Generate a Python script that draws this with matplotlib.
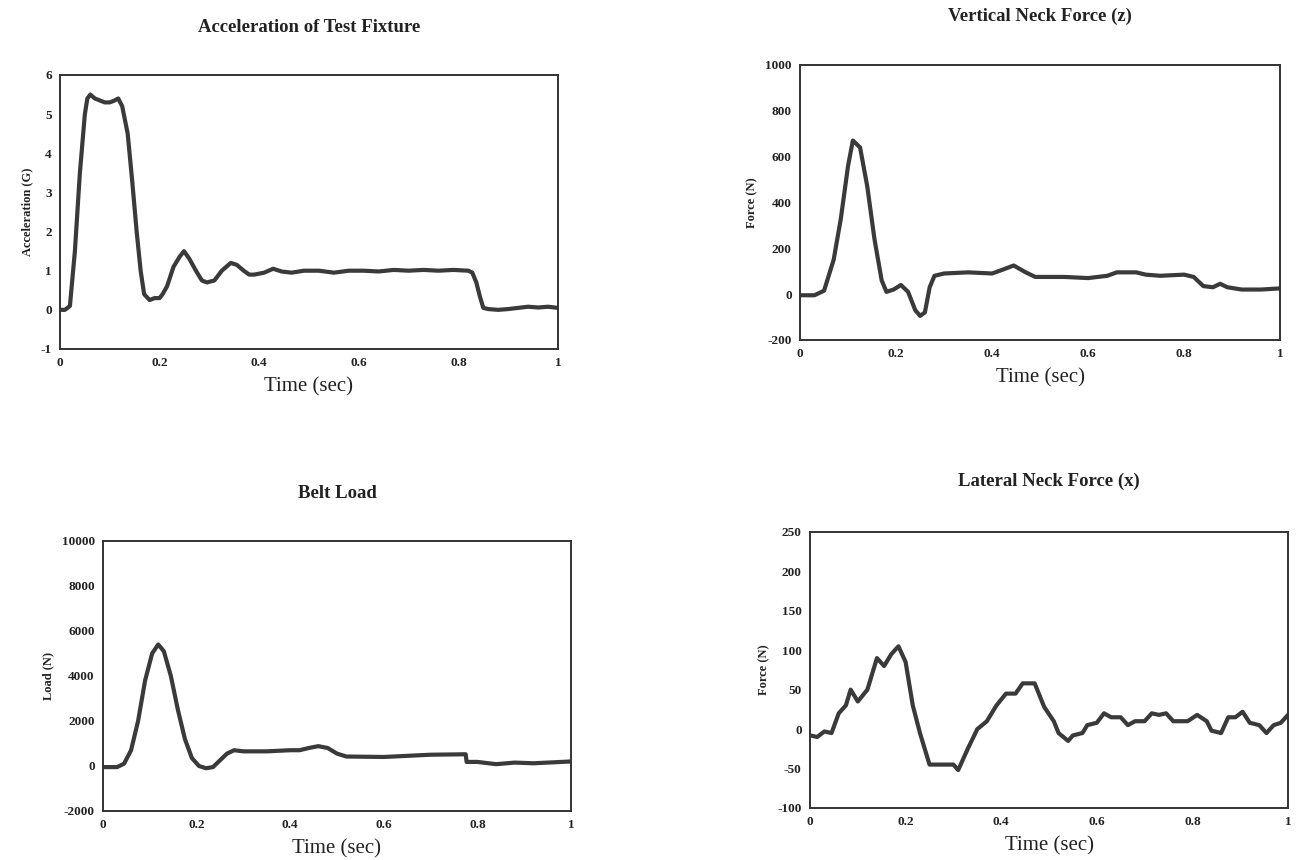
import matplotlib
matplotlib.use('Agg')
import matplotlib.pyplot as plt

plt.rcParams['font.family'] = 'Liberation Serif'
plt.rcParams['axes.unicode_minus'] = False

# Acceleration of test fixture (G)
acc_t = [0.0, 0.01, 0.02, 0.03, 0.04, 0.05, 0.055, 0.061, 0.07, 0.08, 0.09, 0.1, 0.11, 0.117,
         0.125, 0.136, 0.145, 0.154, 0.162, 0.169, 0.18, 0.19, 0.2, 0.206, 0.215, 0.228, 0.24,
         0.249, 0.26, 0.273, 0.285, 0.295, 0.31, 0.325, 0.343, 0.355, 0.369, 0.38, 0.39, 0.41,
         0.428, 0.445, 0.465, 0.49, 0.52, 0.55, 0.58, 0.61, 0.64, 0.67, 0.7, 0.73, 0.76, 0.79,
         0.82, 0.828, 0.836, 0.843, 0.85, 0.86, 0.88, 0.9, 0.92, 0.94, 0.96, 0.98, 1.0]
acc_v = [0.0, 0.0, 0.1, 1.5, 3.5, 5.0, 5.4, 5.5, 5.4, 5.35, 5.3, 5.3, 5.35, 5.4,
         5.2, 4.5, 3.3, 2.0, 1.0, 0.4, 0.25, 0.3, 0.3, 0.4, 0.6, 1.1, 1.35,
         1.5, 1.3, 1.0, 0.75, 0.7, 0.75, 1.0, 1.2, 1.15, 1.0, 0.9, 0.9, 0.95,
         1.05, 0.98, 0.95, 1.0, 1.0, 0.95, 1.0, 1.0, 0.98, 1.02, 1.0, 1.02, 1.0, 1.02,
         1.0, 0.95, 0.7, 0.35, 0.05, 0.02, 0.0, 0.02, 0.05, 0.08, 0.06, 0.08, 0.05]

# Vertical neck force (N)
vnf_t = [0.0, 0.03, 0.05, 0.07, 0.085, 0.1, 0.11, 0.125, 0.14, 0.155, 0.17, 0.18, 0.195,
         0.21, 0.225, 0.24, 0.25, 0.26, 0.27, 0.28, 0.3, 0.35, 0.4, 0.42, 0.445, 0.47, 0.49,
         0.55, 0.6, 0.64, 0.66, 0.7, 0.72, 0.75, 0.8, 0.82, 0.84, 0.86, 0.875, 0.89, 0.92,
         0.96, 1.0]
vnf_v = [-5, -5, 15, 150, 330, 560, 670, 640, 470, 240, 60, 10, 20,
         40, 10, -70, -95, -80, 30, 80, 90, 95, 90, 105, 125, 95, 75,
         75, 70, 80, 95, 95, 85, 80, 85, 75, 35, 30, 45, 30, 20,
         20, 25]

# Belt load (N)
belt_t = [0.0, 0.03, 0.045, 0.06, 0.075, 0.09, 0.105, 0.118, 0.13, 0.145, 0.16, 0.175, 0.19,
          0.205, 0.22, 0.235, 0.25, 0.265, 0.28, 0.3, 0.35, 0.4, 0.42, 0.44, 0.46, 0.48, 0.5,
          0.52, 0.6, 0.65, 0.7, 0.775, 0.777, 0.8, 0.84, 0.88, 0.92, 1.0]
belt_v = [-50, -50, 100, 700, 2000, 3800, 5000, 5400, 5100, 4000, 2500, 1200, 350,
          0, -100, -50, 250, 550, 700, 650, 650, 700, 700, 800, 880, 800, 550,
          420, 400, 450, 500, 520, 180, 180, 80, 150, 120, 200]

# Lateral neck force (N)
lnf_t = [0.0, 0.015, 0.03, 0.045, 0.06, 0.075, 0.085, 0.1, 0.12, 0.14, 0.155, 0.17, 0.185,
         0.2, 0.215, 0.23, 0.25, 0.28, 0.3, 0.31, 0.33, 0.35, 0.37, 0.39, 0.41, 0.43, 0.445,
         0.47, 0.49, 0.51, 0.52, 0.54, 0.55, 0.57, 0.58, 0.6, 0.615, 0.63, 0.65, 0.665, 0.68,
         0.7, 0.715, 0.73, 0.745, 0.76, 0.79, 0.81, 0.83, 0.84, 0.86, 0.875, 0.89, 0.905,
         0.92, 0.94, 0.955, 0.97, 0.985, 1.0]
lnf_v = [-8, -10, -3, -5, 20, 30, 50, 35, 50, 90, 80, 95, 105,
         85, 30, -5, -45, -45, -45, -52, -25, 0, 10, 30, 45, 45, 58,
         58, 28, 10, -5, -15, -8, -5, 5, 8, 20, 15, 15, 5, 10,
         10, 20, 18, 20, 10, 10, 18, 10, -2, -5, 15, 15, 22,
         8, 5, -5, 5, 8, 18]

xticks = [0, 0.2, 0.4, 0.6, 0.8, 1]
xticklabels = ['0', '0.2', '0.4', '0.6', '0.8', '1']

panels = [
    # title, ylabel, t, v, yticks, axes rect, title pad
    ('Acceleration of Test Fixture', 'Acceleration (G)', acc_t, acc_v,
     [-1, 0, 1, 2, 3, 4, 5, 6], [0.0457, 0.5942, 0.3796, 0.3186], 31),
    ('Vertical Neck Force (z)', 'Force (N)', vnf_t, vnf_v,
     [-200, 0, 200, 400, 600, 800, 1000], [0.6098, 0.6047, 0.3659, 0.3198], 32),
    ('Belt Load', 'Load (N)', belt_t, belt_v,
     [-2000, 0, 2000, 4000, 6000, 8000, 10000], [0.0785, 0.0570, 0.3567, 0.3140], 31),
    ('Lateral Neck Force (x)', 'Force (N)', lnf_t, lnf_v,
     [-100, -50, 0, 50, 100, 150, 200, 250], [0.6174, 0.0605, 0.3643, 0.3210], 33),
]

fig = plt.figure(figsize=(13.12, 8.6), dpi=100)
line_color = '#3a3a3a'

for title, ylab, t, v, yt, rect, tpad in panels:
    ax = fig.add_axes(rect)
    ax.plot(t, v, color=line_color, lw=3.0, solid_joinstyle='round')
    ax.set_xlim(0, 1)
    ax.set_ylim(yt[0], yt[-1])
    ax.set_xticks(xticks)
    ax.set_xticklabels(xticklabels)
    ax.set_yticks(yt)
    ax.tick_params(length=0, labelsize=9.5, pad=6, colors='#222222')
    for lab in ax.get_xticklabels() + ax.get_yticklabels():
        lab.set_fontweight('bold')
    for s in ax.spines.values():
        s.set_color('#333333')
        s.set_linewidth(1.4)
    ax.set_title(title, fontsize=13.5, fontweight='bold', pad=tpad, color='#222222')
    ax.set_xlabel('Time (sec)', fontsize=15, labelpad=6, color='#222222')
    ax.set_ylabel(ylab, fontsize=9, fontweight='bold', labelpad=5, color='#222222')

fig.savefig('out.png', dpi=100, facecolor='white')
